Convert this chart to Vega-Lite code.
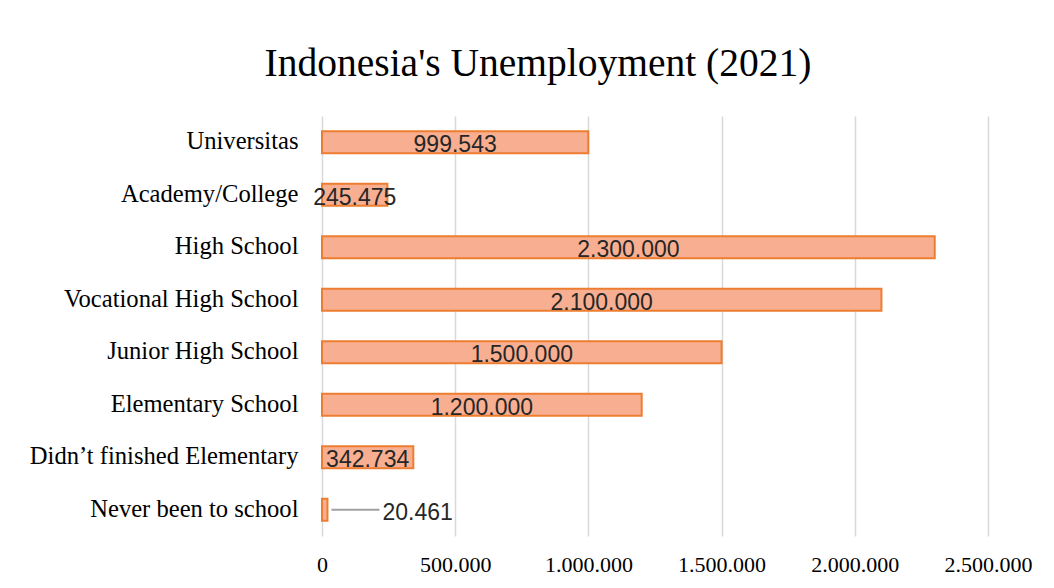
{
  "$schema": "https://vega.github.io/schema/vega-lite/v6.json",
  "autosize": {"type": "none"},
  "width": 666,
  "height": 420,
  "padding": {"left": 322, "top": 116, "right": 66, "bottom": 52},
  "config": {
    "locale": {"number": {"decimal": ",", "thousands": ".", "grouping": [3], "currency": ["", ""]}},
    "view": {"stroke": null},
    "background": "white"
  },
  "title": {
    "text": "Indonesia's Unemployment (2021)",
    "font": "Liberation Serif",
    "fontSize": 39.5,
    "fontWeight": "normal",
    "color": "#000000",
    "anchor": "middle",
    "frame": "group",
    "dx": -117,
    "offset": 32
  },
  "data": {
    "values": [
      {"level": "Universitas", "value": 999543},
      {"level": "Academy/College", "value": 245475},
      {"level": "High School", "value": 2300000},
      {"level": "Vocational High School", "value": 2100000},
      {"level": "Junior High School", "value": 1500000},
      {"level": "Elementary School", "value": 1200000},
      {"level": "Didn’t finished Elementary", "value": 342734},
      {"level": "Never been to school", "value": 20461}
    ]
  },
  "encoding": {
    "y": {
      "field": "level",
      "type": "nominal",
      "sort": null,
      "scale": {"paddingInner": 0.58, "paddingOuter": 0.29},
      "axis": {
        "title": null,
        "domain": false,
        "ticks": false,
        "labelFont": "Liberation Serif",
        "labelFontSize": 24.6,
        "labelColor": "#000000",
        "labelPadding": 24,
        "labelLimit": 400
      }
    }
  },
  "layer": [
    {
      "mark": {"type": "bar", "fill": "#F8AF91", "stroke": "#ED7D31", "strokeWidth": 2},
      "encoding": {
        "x": {
          "field": "value",
          "type": "quantitative",
          "scale": {"domain": [0, 2500000], "nice": false},
          "axis": {
            "title": null,
            "domain": false,
            "ticks": false,
            "values": [0, 500000, 1000000, 1500000, 2000000, 2500000],
            "labelExpr": "format(datum.value, ',')",
            "labelFlush": false,
            "labelOverlap": false,
            "labelFont": "Liberation Serif",
            "labelFontSize": 22,
            "labelColor": "#000000",
            "labelPadding": 18,
            "grid": true,
            "gridColor": "#D9D9D9",
            "gridWidth": 1.5
          }
        }
      }
    },
    {
      "transform": [{"filter": "datum.value > 100000"}, {"calculate": "datum.value / 2", "as": "mid"}],
      "mark": {"type": "text", "font": "Liberation Sans", "fontSize": 23, "color": "#262626", "baseline": "middle", "dy": 3},
      "encoding": {
        "x": {"field": "mid", "type": "quantitative"},
        "text": {"field": "value", "type": "quantitative", "format": ","}
      }
    },
    {
      "transform": [{"filter": "datum.value <= 100000"}],
      "mark": {"type": "rule", "color": "#A0A0A0", "strokeWidth": 2, "x2Offset": 52, "xOffset": 4},
      "encoding": {
        "x": {"field": "value", "type": "quantitative"},
        "x2": {"field": "value"}
      }
    },
    {
      "transform": [{"filter": "datum.value <= 100000"}],
      "mark": {"type": "text", "font": "Liberation Sans", "fontSize": 23, "color": "#262626", "baseline": "middle", "align": "left", "dx": 55, "dy": 3},
      "encoding": {
        "x": {"field": "value", "type": "quantitative"},
        "text": {"field": "value", "type": "quantitative", "format": ","}
      }
    }
  ]
}
